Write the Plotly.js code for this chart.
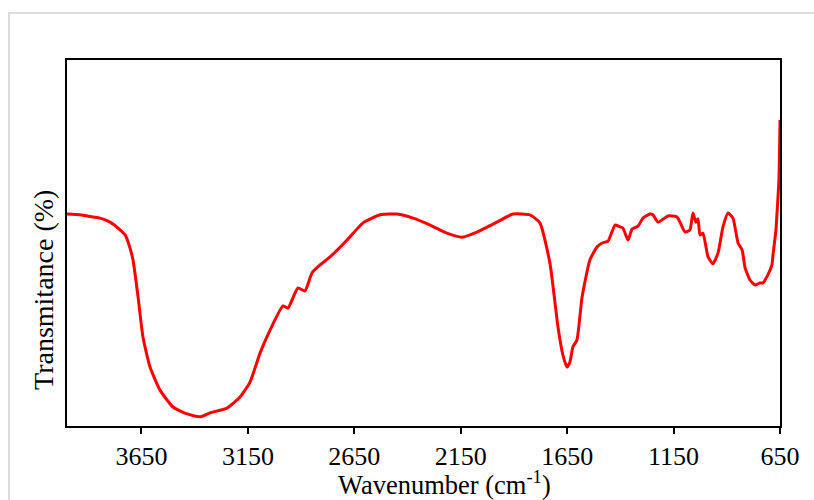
<!DOCTYPE html>
<html>
<head>
<meta charset="utf-8">
<script src="https://cdn.plot.ly/plotly-3.0.1.min.js"></script>
<style>
html,body{margin:0;padding:0;background:#fff;overflow:hidden;}
#frame{position:absolute;left:8px;top:12px;width:900px;height:600px;border:2px solid #dcdcdc;box-sizing:border-box;}
#chart{position:absolute;left:0;top:0;width:814px;height:500px;}
</style>
</head>
<body>
<div id="frame"></div>
<div id="chart"></div>
<script>
const wavenumber = [4000,3939,3878,3845,3798,3751,3727,3713,3690,3666,3643,3610,3563,3502,3436,3375,3328,3248,3187,3140,3093,3046,2985,2962,2915,2882,2849,2811,2764,2684,2609,2529,2450,2374,2294,2215,2144,2074,1980,1905,1825,1778,1731,1693,1670,1651,1637,1623,1604,1580,1543,1510,1486,1458,1425,1402,1388,1364,1345,1317,1294,1261,1247,1223,1176,1134,1120,1096,1073,1059,1045,1035,1026,1012,988,965,941,918,894,871,847,828,814,791,767,744,730,707,688,683,669,664,655,650];
const transmittance = [57.9,57.7,57.1,56.8,55.7,53.6,52.2,50.3,45.4,35.2,24.3,16.1,9.8,5.2,3.3,2.5,3.6,4.9,7.9,12.0,19.9,26.2,32.8,32.2,37.7,36.9,41.8,44.0,46.2,50.8,55.5,57.7,57.9,56.8,54.9,52.7,51.6,53.0,55.7,57.9,57.7,55.5,44.5,27.0,19.4,16.1,17.5,21.6,23.5,35.2,45.4,48.9,50.0,50.5,54.9,54.4,54.1,50.8,53.8,54.6,56.8,57.9,57.7,55.7,57.4,57.1,55.7,53.0,53.6,58.2,55.7,56.6,52.2,52.7,46.2,44.3,47.3,54.4,58.2,56.8,50.0,48.1,43.2,39.9,38.5,39.1,39.1,41.3,44.0,46.7,53.6,58.2,67.2,83.6];
const xTicks = [3650,3150,2650,2150,1650,1150,650];
const xTitle = 'Wavenumber (cm<sup>-1</sup>)';
const yTitle = 'Transmitance (%)';

const font = "'Liberation Serif','Times New Roman',serif";
Plotly.newPlot('chart', [{
  x: wavenumber, y: transmittance, type: 'scatter', mode: 'lines',
  line: {color: '#ff0000', width: 3, shape: 'spline', smoothing: 0.5},
  hoverinfo: 'skip'
}], {
  width: 814, height: 500,
  margin: {l: 67, r: 34, t: 60, b: 74},
  paper_bgcolor: 'rgba(0,0,0,0)', plot_bgcolor: '#fff',
  showlegend: false,
  font: {family: font, color: '#000'},
  xaxis: {
    range: [4000, 650], tickvals: xTicks, ticktext: xTicks.map(String),
    ticks: 'outside', ticklen: 6, tickwidth: 2, tickcolor: '#000',
    showline: true, linewidth: 2, linecolor: '#000', mirror: true,
    showgrid: false, zeroline: false,
    tickfont: {family: font, size: 26, color: '#000'}
  },
  yaxis: {
    range: [0, 100], showticklabels: false, ticks: '',
    showline: true, linewidth: 2, linecolor: '#000', mirror: true,
    showgrid: false, zeroline: false
  },
  annotations: [
    {text: xTitle, xref: 'paper', yref: 'paper', x: 0.5288, y: -0.157,
     xanchor: 'center', yanchor: 'middle', showarrow: false,
     font: {family: font, size: 26.5, color: '#000'}},
    {text: yTitle, xref: 'paper', yref: 'paper', x: -0.0323, y: 0.3716,
     xanchor: 'center', yanchor: 'middle', showarrow: false, textangle: -90,
     font: {family: font, size: 28, color: '#000'}}
  ]
}, {staticPlot: true});
</script>
</body>
</html>
